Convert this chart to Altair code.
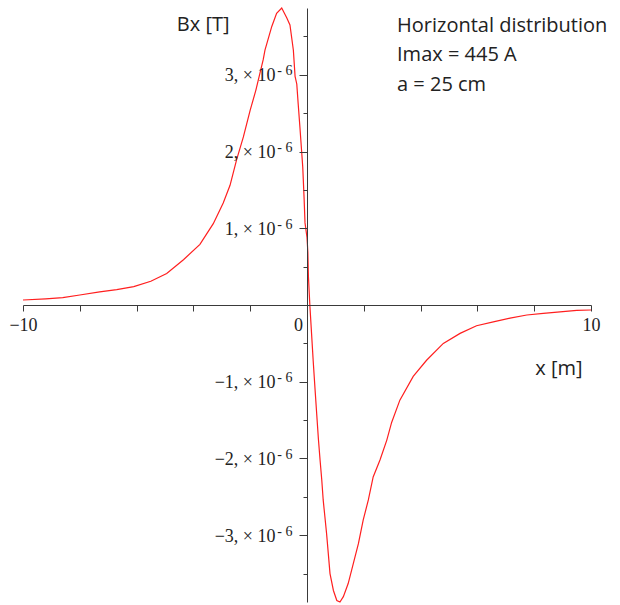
import altair as alt
import pandas as pd

# Horizontal component of the magnetic flux density along the x axis
x_m = [
    -10.0, -9.2, -8.6, -8.0, -7.3, -6.7, -6.1, -5.5, -4.94, -4.35,
    -3.77, -3.30, -2.95, -2.71, -2.48, -2.24, -2.00, -1.80, -1.54, -1.48,
    -1.24, -1.07, -0.89, -0.71, -0.60, -0.48, -0.42, -0.36, -0.31, -0.25,
    -0.15, -0.10, -0.07, 0.00, 0.03, 0.05, 0.10, 0.16, 0.22, 0.28,
    0.34, 0.40, 0.46, 0.52, 0.57, 0.63, 0.69, 0.75, 0.81, 0.93,
    1.05, 1.16, 1.28, 1.45, 1.63, 1.81, 1.98, 2.16, 2.33, 2.57,
    2.81, 2.98, 3.27, 3.74, 4.21, 4.80, 5.39, 5.97, 6.56, 7.15,
    7.74, 8.32, 8.91, 9.50, 10.0,
]
bx_micro_t = [
    0.065, 0.08, 0.095, 0.13, 0.17, 0.20, 0.24, 0.31, 0.41, 0.59,
    0.79, 1.06, 1.33, 1.56, 1.89, 2.19, 2.54, 2.80, 3.20, 3.32,
    3.63, 3.80, 3.87, 3.74, 3.65, 3.32, 2.98, 2.88, 2.62, 2.32,
    1.80, 1.37, 1.07, 0.88, 0.69, 0.37, 0.00, -0.37, -0.74, -1.08,
    -1.41, -1.74, -2.02, -2.28, -2.54, -2.76, -2.98, -3.24, -3.50, -3.72,
    -3.85, -3.87, -3.80, -3.63, -3.37, -3.11, -2.80, -2.54, -2.24, -2.02,
    -1.76, -1.53, -1.24, -0.93, -0.72, -0.50, -0.37, -0.27, -0.22, -0.17,
    -0.13, -0.11, -0.09, -0.07, -0.065,
]

x_ticks = list(range(-10, 11))
y_ticks = [-3.5, -3.0, -2.5, -2.0, -1.5, -1.0, -0.5, 0.5, 1.0, 1.5, 2.0, 2.5, 3.0, 3.5]
info_lines = ["Horizontal distribution", "Imax = 445 A", "a = 25 cm"]
info_pos = {"x": [3.17], "y": [3.56]}

W, H = 568, 594
x_domain = [-10, 10]
y_domain = [-3.87, 3.87]

AXIS_COLOR = "#3a3a3a"
TEXT_COLOR = "#222222"
SANS = "Open Sans"
SERIF = "Liberation Serif"

df = pd.DataFrame({"x": x_m, "bx": bx_micro_t})

x_scale = alt.Scale(domain=x_domain, nice=False, zero=False)
y_scale = alt.Scale(domain=y_domain, nice=False, zero=False)

x_axis = alt.Axis(
    values=x_ticks,
    offset=-H / 2,
    grid=False,
    zindex=1,
    domainColor=AXIS_COLOR,
    tickColor=AXIS_COLOR,
    tickSize=6,
    labelFont=SERIF,
    labelFontSize=18,
    labelColor=TEXT_COLOR,
    labelPadding=5,
    labelOverlap=False,
    labelFlush=False,
    labelExpr="datum.value % 5 == 0 ? (datum.value < 0 ? '\u2212' : '') + abs(datum.value) : ''",
    labelOffset={"condition": {"test": "datum.value == 0", "value": -9}, "value": 0},
    title="x [m]",
    titleFont=SANS,
    titleFontSize=20,
    titleFontWeight="normal",
    titleColor=TEXT_COLOR,
    titleAngle=0,
    titleAlign="right",
    titleBaseline="alphabetic",
    titleX=559,
    titleY=69,
)

# mantissa part of the tick labels: "3, × 10"
y_axis = alt.Axis(
    orient="left",
    values=y_ticks,
    offset=-W / 2,
    grid=False,
    zindex=1,
    domainColor=AXIS_COLOR,
    tickColor=AXIS_COLOR,
    tickSize={"condition": {"test": "datum.value % 1 != 0", "value": 4}, "value": 8},
    labelFont=SERIF,
    labelFontSize=18,
    labelColor=TEXT_COLOR,
    labelPadding=24,
    labelOffset=1,
    labelOverlap=False,
    labelFlush=False,
    labelExpr="datum.value % 1 == 0 ? (datum.value < 0 ? '\u2212' : '') + abs(datum.value) + ',  \u00d7 10' : ''",
    title="Bx [T]",
    titleFont=SANS,
    titleFontSize=20,
    titleFontWeight="normal",
    titleColor=TEXT_COLOR,
    titleAngle=0,
    titleAlign="right",
    titleBaseline="alphabetic",
    titleX=-78,
    titleY=22,
)

# raised exponent part of the tick labels: "- 6"
exp_axis = alt.Axis(
    orient="left",
    values=y_ticks,
    offset=-W / 2,
    grid=False,
    domain=False,
    ticks=True,
    tickOpacity=0,
    tickSize=8,
    labelFont=SERIF,
    labelFontSize=14,
    labelColor=TEXT_COLOR,
    labelPadding=7,
    labelOffset=-4,
    labelOverlap=False,
    labelFlush=False,
    labelExpr="datum.value % 1 == 0 ? '- 6' : ''",
    title=None,
)

curve = alt.Chart(df).mark_line(color="#ff1f1f", strokeWidth=1.2).encode(
    x=alt.X("x:Q", scale=x_scale, axis=x_axis),
    y=alt.Y("bx:Q", scale=y_scale, axis=y_axis),
    order=alt.Order("x:Q"),
)

exponent = alt.Chart(df).mark_line(strokeOpacity=0).encode(
    x=alt.X("x:Q", scale=x_scale),
    y=alt.Y("bx:Q", scale=y_scale, axis=exp_axis),
    order=alt.Order("x:Q"),
)

info = alt.Chart(pd.DataFrame(info_pos)).mark_text(
    text=info_lines,
    align="left",
    baseline="alphabetic",
    font=SANS,
    fontSize=20,
    lineHeight=29.5,
    color=TEXT_COLOR,
).encode(
    x=alt.X("x:Q", scale=x_scale),
    y=alt.Y("y:Q", scale=y_scale, axis=None),
)

chart = (
    alt.layer(curve, exponent, info)
    .resolve_axis(y="independent")
    .properties(
        width=W,
        height=H,
        autosize="none",
        padding={"left": 23, "top": 8, "right": 29, "bottom": 3},
        background="white",
    )
    .configure_view(stroke=None)
)

chart.save("out.html", embed_options={"renderer": "svg", "actions": False})
